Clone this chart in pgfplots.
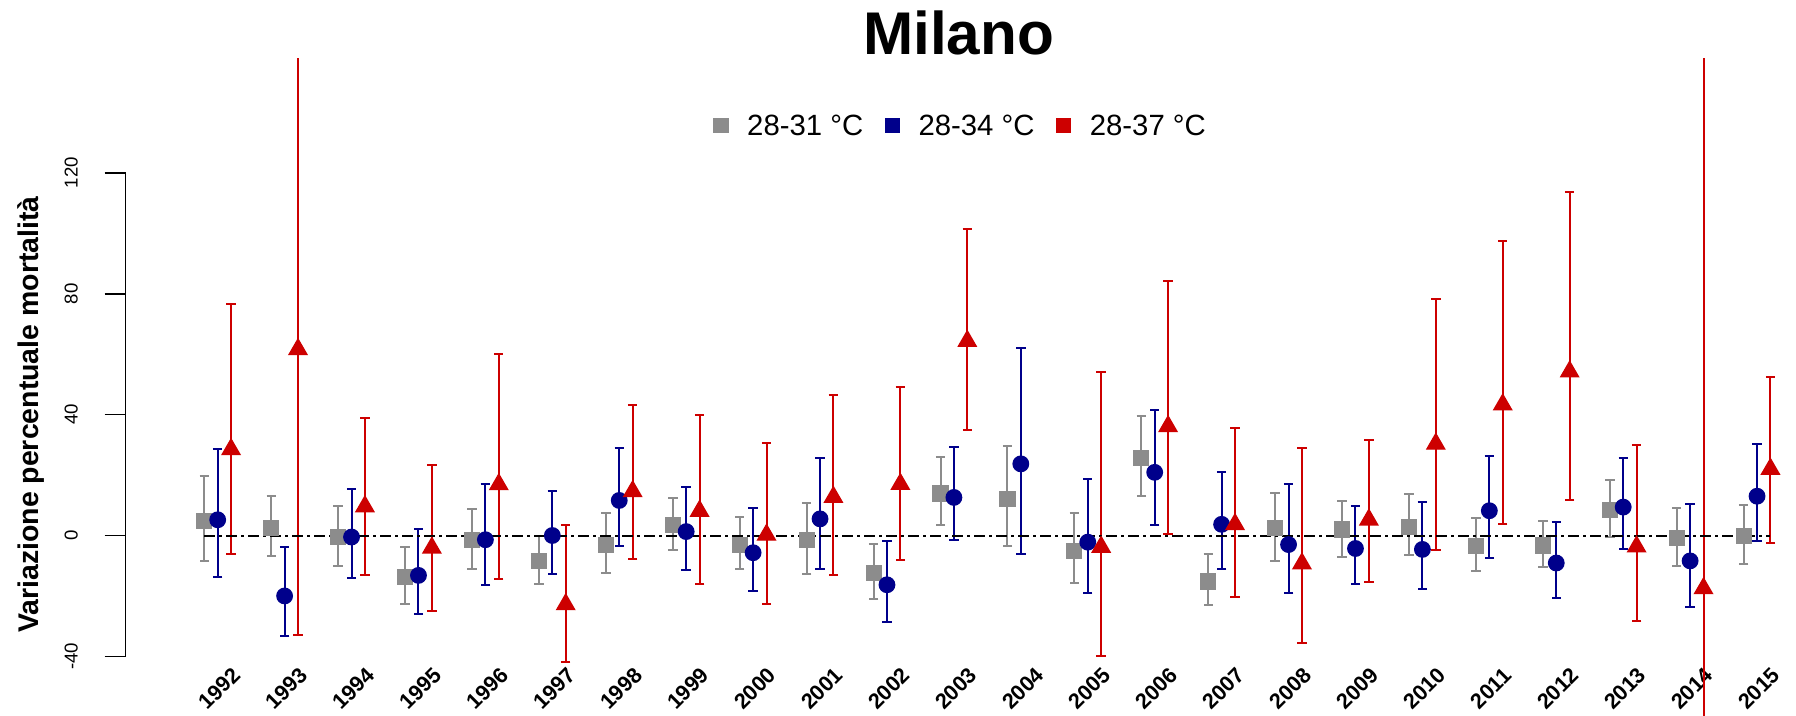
\documentclass[border=0pt]{standalone}
\usepackage{pgfplots}
\pgfplotsset{compat=1.18}
\usepackage{pgfplotstable}
\usepackage{fontspec}
\setmainfont{Liberation Sans}

\definecolor{cgray}{RGB}{140,140,140}
\definecolor{cblue}{RGB}{0,0,139}
\definecolor{cred}{RGB}{205,0,0}

% estimate and 95% interval (lo, hi) per year
\pgfplotstableread{
year y lo hi
1992 4.8 -8.5 19.8
1993 2.6 -6.9 13.1
1994 -0.5 -10.0 9.6
1995 -13.8 -22.7 -3.7
1996 -1.5 -11.0 8.7
1997 -8.3 -16.2 0.0
1998 -3.0 -12.3 7.3
1999 3.4 -4.8 12.4
2000 -3.0 -11.2 6.2
2001 -1.5 -12.7 10.9
2002 -12.5 -21.0 -2.7
2003 13.9 3.5 25.9
2004 12.0 -3.5 29.6
2005 -5.0 -15.6 7.3
2006 25.6 13.1 39.6
2007 -15.2 -23.0 -6.1
2008 2.4 -8.5 14.1
2009 2.0 -7.2 11.4
2010 2.9 -6.6 13.8
2011 -3.4 -11.8 5.9
2012 -3.3 -10.5 4.9
2013 8.4 -0.4 18.2
2014 -0.8 -10.0 9.0
2015 -0.2 -9.3 10.1
}\tabA

\pgfplotstableread{
year y lo hi
1992 5.2 -13.7 28.6
1993 -20.0 -33.4 -3.8
1994 -0.5 -14.1 15.3
1995 -13.2 -26.1 2.0
1996 -1.4 -16.5 17.0
1997 0.0 -12.7 14.8
1998 11.6 -3.5 29.1
1999 1.3 -11.3 15.9
2000 -5.7 -18.2 9.0
2001 5.5 -11.0 25.6
2002 -16.3 -28.6 -1.7
2003 12.6 -1.6 29.4
2004 23.7 -6.2 62.2
2005 -2.2 -18.9 18.6
2006 20.9 3.5 41.5
2007 3.7 -11.0 21.0
2008 -3.0 -18.9 17.0
2009 -4.3 -16.2 9.6
2010 -4.6 -17.8 11.0
2011 8.2 -7.6 26.2
2012 -9.1 -20.6 4.6
2013 9.4 -4.5 25.6
2014 -8.4 -23.7 10.5
2015 13.0 -1.7 30.3
}\tabB

\pgfplotstableread{
year y lo hi
1992 28.5 -6.2 76.7
1993 61.6 -32.9 190.0
1994 9.6 -13.1 38.9
1995 -4.1 -25.1 23.4
1996 16.9 -14.3 59.9
1997 -22.8 -42.0 3.5
1998 14.6 -7.8 43.1
1999 8.1 -16.2 40.0
2000 0.2 -22.7 30.6
2001 12.7 -13.2 46.5
2002 17.0 -8.2 49.2
2003 64.3 34.8 101.4
2005 -3.8 -39.8 54.1
2006 36.1 0.6 84.3
2007 3.7 -20.2 35.6
2008 -9.3 -35.7 29.1
2009 5.2 -15.5 31.7
2010 30.3 -4.7 78.4
2011 43.3 3.8 97.6
2012 54.2 11.6 113.6
2013 -3.7 -28.3 29.8
2014 -17.5 -80.0 200.0
2015 22.0 -2.4 52.5
}\tabC

\begin{document}
\begin{tikzpicture}
\path[use as bounding box] (0,0) rectangle (17.96cm,7.15cm);
\begin{axis}[
  at={(1.255cm,0cm)}, anchor=south west,
  scale only axis, width=16.705cm, height=6.566cm,
  xmin=1990.8226, xmax=2015.782,
  ymin=-59.39, ymax=157.85,
  axis lines*=left,
  axis line style={draw=none},
  ytick={-40,0,40,80,120},
  yticklabels={-40,0,40,80,120},
  ytick align=outside,
  xtick align=inside,
  major tick length=0.21cm,
  ytick style={black, line width=0.017cm},
  xtick style={draw=none},
  yticklabel style={rotate=90, anchor=south, inner sep=0pt, font=\fontsize{5.3}{6}\selectfont},
  yticklabel shift=0.26cm,
  xtick={1992.23,1993.23,...,2015.23},
  xticklabels={1992,1993,1994,1995,1996,1997,1998,1999,2000,2001,2002,2003,2004,2005,2006,2007,2008,2009,2010,2011,2012,2013,2014,2015},
  xticklabel style={rotate=45, anchor=center, inner sep=0pt, font=\fontsize{6.16}{7}\selectfont\bfseries},
  xticklabel shift=-0.267cm,
  title={Milano},
  every axis title/.style={at={(axis description cs:0.4987,1.0052)}, anchor=base, inner sep=0pt, font=\fontsize{17.15}{20}\selectfont\bfseries},
  ylabel={Variazione percentuale mortalità},
  ylabel style={at={(axis description cs:-0.0522,0.4575)}, anchor=base, inner sep=0pt, font=\fontsize{8.1}{9}\selectfont\bfseries},
  legend columns=3,
  legend style={at={(axis description cs:0.35151,0.89812)}, anchor=west, draw=none, fill=none, inner sep=0pt,
    nodes={inner sep=0pt, text depth=0pt}, font=\fontsize{8.34}{10}\selectfont,
    /tikz/every odd column/.append style={column sep=0.184cm},
    /tikz/every even column/.append style={column sep=0.215cm}},
  after end axis/.code={\draw[line width=0.017cm] (axis cs:1990.8226,-40) -- (axis cs:1990.8226,120);},
]
% 28-31 °C
\addplot[only marks, mark=square*, mark size=0.0735cm, cgray, mark options={draw=none, fill=cgray},
  legend image code/.code={\fill[cgray] (-0.07cm,-0.07cm) rectangle (0.07cm,0.07cm);},
  error bars/.cd, y dir=both, y explicit,
  error bar style={line width=0.02cm, cgray, solid},
  error mark options={rotate=90, mark size=0.047cm, line width=0.02cm, cgray}]
  table[x=year, y=y, y error plus expr=\thisrow{hi}-\thisrow{y}, y error minus expr=\thisrow{y}-\thisrow{lo}] {\tabA};
\addlegendentry{28-31 °C}
% 28-34 °C
\addplot[only marks, mark=*, mark size=0.077cm, cblue, mark options={draw=none, fill=cblue},
  legend image code/.code={\fill[cblue] (-0.07cm,-0.07cm) rectangle (0.07cm,0.07cm);},
  error bars/.cd, y dir=both, y explicit,
  error bar style={line width=0.02cm, cblue, solid},
  error mark options={rotate=90, mark size=0.047cm, line width=0.02cm, cblue}]
  table[x expr=\thisrow{year}+0.2, y=y, y error plus expr=\thisrow{hi}-\thisrow{y}, y error minus expr=\thisrow{y}-\thisrow{lo}] {\tabB};
\addlegendentry{28-34 °C}
% 28-37 °C
\addplot[only marks, mark=triangle*, mark size=0.102cm, cred, mark options={draw=none, fill=cred},
  legend image code/.code={\fill[cred] (-0.07cm,-0.07cm) rectangle (0.07cm,0.07cm);},
  error bars/.cd, y dir=both, y explicit,
  error bar style={line width=0.02cm, cred, solid},
  error mark options={rotate=90, mark size=0.047cm, line width=0.02cm, cred}]
  table[x expr=\thisrow{year}+0.4, y=y, y error plus expr=\thisrow{hi}-\thisrow{y}, y error minus expr=\thisrow{y}-\thisrow{lo}] {\tabC};
\addlegendentry{28-37 °C}
% reference line at zero
\addplot[forget plot, black, line width=0.02cm, dash pattern=on 0.11cm off 0.04cm on 0.03cm off 0.04cm]
  coordinates {(1992,0) (2015.4,0)};
\end{axis}
\end{tikzpicture}
\end{document}
